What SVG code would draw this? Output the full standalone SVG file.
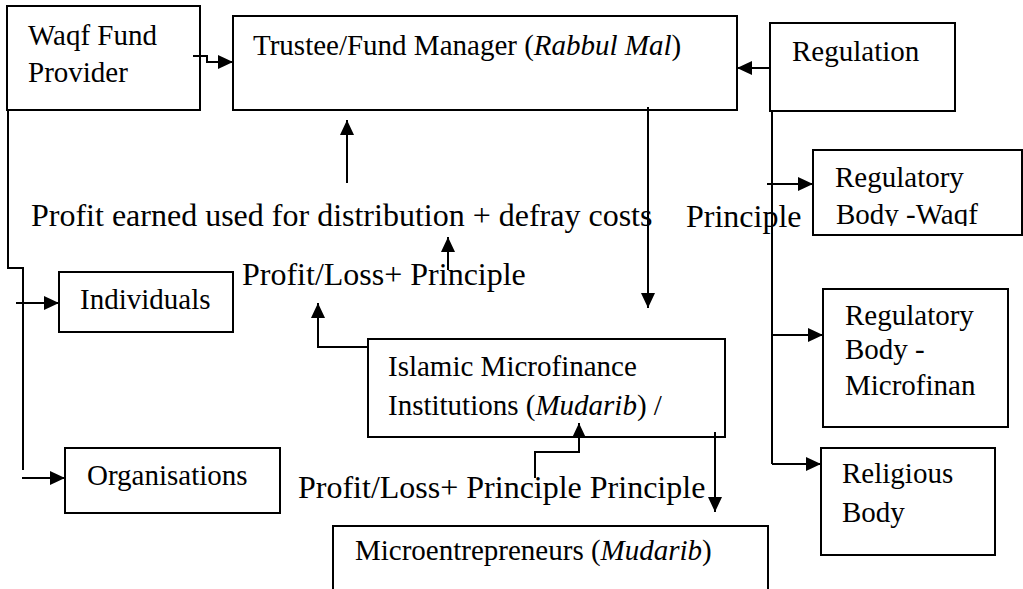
<svg xmlns="http://www.w3.org/2000/svg" width="1023" height="589" viewBox="0 0 1023 589">
<style>
  .box { fill: #fff; stroke: #000; stroke-width: 2; }
  .t { font-family: "Liberation Serif", "Times New Roman", serif; font-size: 29px; fill: #000; }
  .lbl { font-family: "Liberation Serif", "Times New Roman", serif; font-size: 32px; fill: #000; }
  .c { fill: none; stroke: #000; stroke-width: 2; }
</style>
<defs>
  <marker id="ah" markerUnits="userSpaceOnUse" markerWidth="15" markerHeight="14" refX="15" refY="7" orient="auto">
    <path d="M0,0 L15,7 L0,14 z" fill="#000"/>
  </marker>
  <clipPath id="clipWaqf"><rect x="813" y="150" width="210" height="76"/></clipPath>
</defs>
<rect width="1023" height="589" fill="#fff"/>

<g id="waqf-fund-provider">
  <rect class="box" x="7" y="6" width="193" height="104"/>
  <text class="t" x="28" y="45">Waqf Fund</text>
  <text class="t" x="28" y="82">Provider</text>
</g>
<g id="trustee">
  <rect class="box" x="233" y="16" width="504" height="94"/>
  <text class="t" x="253" y="55">Trustee/Fund Manager (<tspan font-style="italic">Rabbul Mal</tspan>)</text>
</g>
<g id="regulation">
  <rect class="box" x="770" y="23" width="185" height="88"/>
  <text class="t" x="792" y="61">Regulation</text>
</g>
<g id="regulatory-body-waqf">
  <rect class="box" x="813" y="150" width="209" height="85"/>
  <g clip-path="url(#clipWaqf)">
    <text class="t" x="835" y="187">Regulatory</text>
    <text class="t" x="836" y="224">Body -Waqf</text>
  </g>
</g>
<g id="regulatory-body-microfinance">
  <rect class="box" x="823" y="289" width="185" height="138"/>
  <text class="t" x="845" y="325">Regulatory</text>
  <text class="t" x="845" y="359">Body -</text>
  <text class="t" x="845" y="395">Microfinan</text>
</g>
<g id="religious-body">
  <rect class="box" x="821" y="448" width="174" height="107"/>
  <text class="t" x="842" y="483">Religious</text>
  <text class="t" x="842" y="522">Body</text>
</g>
<g id="individuals">
  <rect class="box" x="59" y="272" width="174" height="60"/>
  <text class="t" x="80" y="309">Individuals</text>
</g>
<g id="organisations">
  <rect class="box" x="65" y="448" width="215" height="65"/>
  <text class="t" x="87" y="485">Organisations</text>
</g>
<g id="islamic-mfi">
  <rect class="box" x="368" y="339" width="357" height="98"/>
  <text class="t" x="388" y="376">Islamic Microfinance</text>
  <text class="t" x="388" y="415">Institutions (<tspan font-style="italic">Mudarib</tspan>) /</text>
</g>
<g id="microentrepreneurs">
  <rect class="box" x="333" y="526" width="435" height="70"/>
  <text class="t" x="355" y="560">Microentrepreneurs (<tspan font-style="italic">Mudarib</tspan>)</text>
</g>

<g id="labels">
  <text class="lbl" x="31" y="226">Profit earned used for distribution + defray costs</text>
  <text class="lbl" x="686" y="227">Principle</text>
  <text class="lbl" x="242" y="285">Profit/Loss+ Principle</text>
  <text class="lbl" x="298" y="498">Profit/Loss+ Principle Principle</text>
</g>

<g id="connectors">
  <path class="c" d="M193,56 H207 V62 H233" marker-end="url(#ah)"/>
  <path class="c" d="M770,68 H737" marker-end="url(#ah)"/>
  <path class="c" d="M8,110 V268 H23 V470"/>
  <path class="c" d="M16,303 H59" marker-end="url(#ah)"/>
  <path class="c" d="M22,478 H65" marker-end="url(#ah)"/>
  <path class="c" d="M772,111 V464"/>
  <path class="c" d="M767,184 H813" marker-end="url(#ah)"/>
  <path class="c" d="M773,335 H823" marker-end="url(#ah)"/>
  <path class="c" d="M772,464 H821" marker-end="url(#ah)"/>
  <path class="c" d="M347,183 V120" marker-end="url(#ah)"/>
  <path class="c" d="M448,270 V237" marker-end="url(#ah)"/>
  <path class="c" d="M648,107 V308" marker-end="url(#ah)"/>
  <path class="c" d="M368,347 H318 V303" marker-end="url(#ah)"/>
  <path class="c" d="M535,478 V452 H579 V423" marker-end="url(#ah)"/>
  <path class="c" d="M715,432 V512" marker-end="url(#ah)"/>
</g>
</svg>
